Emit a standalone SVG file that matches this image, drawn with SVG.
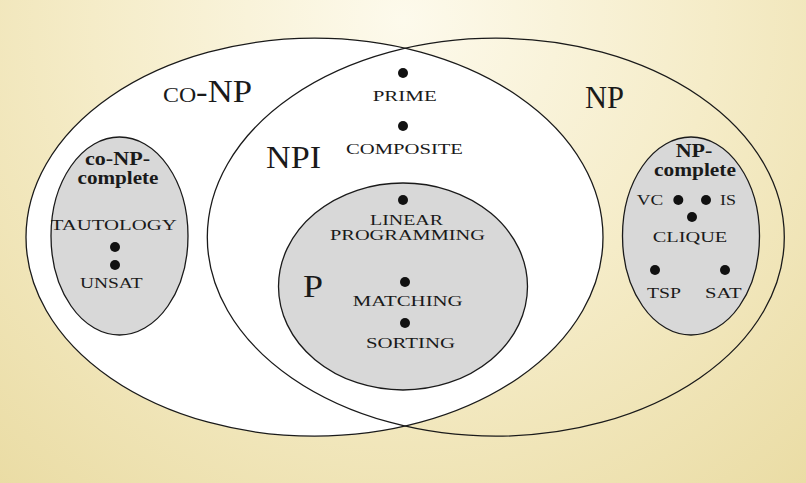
<svg xmlns="http://www.w3.org/2000/svg" width="806" height="483" viewBox="0 0 806 483">
<defs>
<radialGradient id="bg" gradientUnits="userSpaceOnUse" cx="403" cy="20" r="620">
<stop offset="0" stop-color="#fdfaec"/>
<stop offset="0.5" stop-color="#f5ecc8"/>
<stop offset="1" stop-color="#eadca4"/>
</radialGradient>
<style>
.set{stroke:#1a1a1a;stroke-width:1.3}
.white{fill:#ffffff}
.none{fill:none}
.gray{fill:#d8d8d8}
.big{font-family:"Liberation Serif","Times New Roman",serif;font-size:32px;fill:#1a1a1a}
.sc{font-family:"Liberation Serif","Times New Roman",serif;font-size:15.5px;fill:#1a1a1a;text-anchor:middle}
.bold{font-family:"Liberation Serif","Times New Roman",serif;font-size:19px;font-weight:bold;fill:#1a1a1a;text-anchor:middle}
.dot{fill:#111111}
</style>
</defs>
<rect x="0" y="0" width="806" height="483" fill="url(#bg)"/>

<g id="coNP">
<ellipse class="set white" cx="314.5" cy="237.2" rx="288.5" ry="199"/>
<text class="big" x="163" y="102" textLength="89" lengthAdjust="spacingAndGlyphs"><tspan style="font-variant:small-caps">co</tspan>-NP</text>
</g>

<g id="NP">
<ellipse class="set none" cx="495.8" cy="237.2" rx="288.5" ry="199"/>
<text class="big" x="585" y="107.5" textLength="39" lengthAdjust="spacingAndGlyphs">NP</text>
</g>

<g id="NPI">
<text class="big" x="266" y="168" textLength="55" lengthAdjust="spacingAndGlyphs">NPI</text>
<circle class="dot" cx="403" cy="73" r="5"/>
<text class="sc" x="404.7" y="100.7" textLength="64" lengthAdjust="spacingAndGlyphs">PRIME</text>
<circle class="dot" cx="403" cy="126" r="5"/>
<text class="sc" x="404.5" y="154" textLength="117" lengthAdjust="spacingAndGlyphs">COMPOSITE</text>
</g>

<g id="coNPcomplete">
<ellipse class="set gray" cx="119.5" cy="236" rx="68.5" ry="99"/>
<text class="bold" x="117.5" y="165" textLength="65" lengthAdjust="spacingAndGlyphs">co-NP-</text>
<text class="bold" x="118" y="184" textLength="81" lengthAdjust="spacingAndGlyphs">complete</text>
<text class="sc" x="113.7" y="230" textLength="126" lengthAdjust="spacingAndGlyphs">TAUTOLOGY</text>
<circle class="dot" cx="115" cy="247" r="5"/>
<circle class="dot" cx="115" cy="265" r="5"/>
<text class="sc" x="111.3" y="288" textLength="62.7" lengthAdjust="spacingAndGlyphs">UNSAT</text>
</g>

<g id="NPcomplete">
<ellipse class="set gray" cx="691" cy="236" rx="68.5" ry="99"/>
<text class="bold" x="694" y="156.7" textLength="36.7" lengthAdjust="spacingAndGlyphs">NP-</text>
<text class="bold" x="695" y="176" textLength="82" lengthAdjust="spacingAndGlyphs">complete</text>
<text class="sc" x="650" y="205" textLength="26.6" lengthAdjust="spacingAndGlyphs">VC</text>
<circle class="dot" cx="678.3" cy="200" r="5"/>
<circle class="dot" cx="706" cy="200" r="5"/>
<text class="sc" x="728" y="205" textLength="16" lengthAdjust="spacingAndGlyphs">IS</text>
<circle class="dot" cx="692" cy="217" r="5"/>
<text class="sc" x="690" y="242.3" textLength="74.6" lengthAdjust="spacingAndGlyphs">CLIQUE</text>
<circle class="dot" cx="655" cy="270" r="5"/>
<circle class="dot" cx="725" cy="270" r="5"/>
<text class="sc" x="664" y="298.3" textLength="34" lengthAdjust="spacingAndGlyphs">TSP</text>
<text class="sc" x="723.3" y="298.3" textLength="36.7" lengthAdjust="spacingAndGlyphs">SAT</text>
</g>

<g id="P">
<ellipse class="set gray" cx="403" cy="286.5" rx="124.5" ry="103.5"/>
<text class="big" x="303" y="297" textLength="20" lengthAdjust="spacingAndGlyphs">P</text>
<circle class="dot" cx="403" cy="200" r="5"/>
<text class="sc" x="406.5" y="224.5" textLength="73" lengthAdjust="spacingAndGlyphs" style="font-size:15px">LINEAR</text>
<text class="sc" x="407.5" y="240" textLength="155" lengthAdjust="spacingAndGlyphs" style="font-size:15px">PROGRAMMING</text>
<circle class="dot" cx="405" cy="282" r="5"/>
<text class="sc" x="407.7" y="306" textLength="110" lengthAdjust="spacingAndGlyphs">MATCHING</text>
<circle class="dot" cx="405" cy="323" r="5"/>
<text class="sc" x="410.5" y="348" textLength="89" lengthAdjust="spacingAndGlyphs">SORTING</text>
</g>
</svg>
